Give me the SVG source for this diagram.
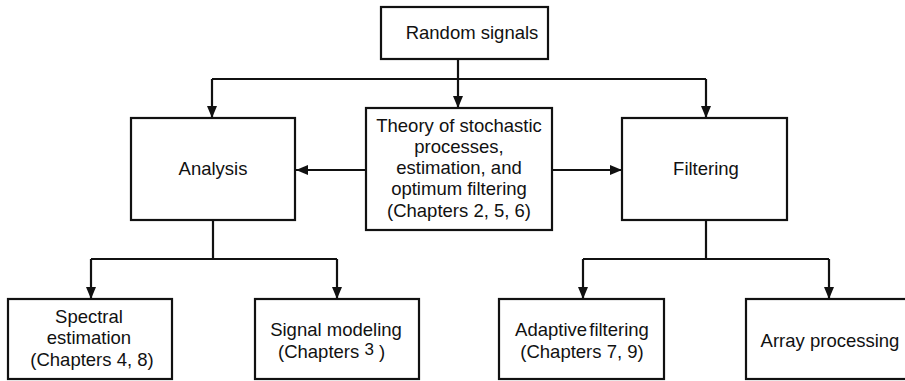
<svg xmlns="http://www.w3.org/2000/svg" width="905" height="381" viewBox="0 0 905 381">
<defs>
<marker id="ah" viewBox="0 0 12 10" refX="12" refY="5" markerWidth="12" markerHeight="10" markerUnits="userSpaceOnUse" orient="auto">
<path d="M0,0 L12,5 L0,10 Z" fill="#111"/>
</marker>
<style>
.box{fill:#fff;stroke:#111;stroke-width:2.2}
.lbl{font-family:"Liberation Sans",Arial,sans-serif;font-size:18.5px;fill:#111;text-anchor:middle}
.con{fill:none;stroke:#111;stroke-width:2.2}
</style>
</defs>
<rect width="905" height="381" fill="#fff"/>
<g id="connectors">
<path class="con" d="M458,59 V108" marker-end="url(#ah)"/>
<path class="con" d="M212,79 H706"/>
<path class="con" d="M212,79 V118" marker-end="url(#ah)"/>
<path class="con" d="M706,79 V118" marker-end="url(#ah)"/>
<path class="con" d="M366,170 H296" marker-end="url(#ah)"/>
<path class="con" d="M552,170 H622" marker-end="url(#ah)"/>
<path class="con" d="M213,220 V259 M91,259 H337"/>
<path class="con" d="M91,259 V299" marker-end="url(#ah)"/>
<path class="con" d="M337,259 V299" marker-end="url(#ah)"/>
<path class="con" d="M706,220 V259 M583,259 H829"/>
<path class="con" d="M583,259 V299" marker-end="url(#ah)"/>
<path class="con" d="M829,259 V299" marker-end="url(#ah)"/>
</g>
<g id="random-signals">
<rect class="box" x="381" y="7" width="167" height="52"/>
<text class="lbl" x="472" y="39">Random signals</text>
</g>
<g id="theory">
<rect class="box" x="366" y="108" width="186" height="122"/>
<text class="lbl" x="459" y="132">Theory of stochastic</text>
<text class="lbl" x="459" y="153">processes,</text>
<text class="lbl" x="459" y="174">estimation, and</text>
<text class="lbl" x="459" y="195">optimum filtering</text>
<text class="lbl" x="459" y="217">(Chapters 2, 5, 6)</text>
</g>
<g id="analysis">
<rect class="box" x="131" y="118" width="164" height="102"/>
<text class="lbl" x="213" y="175">Analysis</text>
</g>
<g id="filtering">
<rect class="box" x="622" y="118" width="165" height="102"/>
<text class="lbl" x="706" y="175">Filtering</text>
</g>
<g id="spectral">
<rect class="box" x="8" y="299" width="164" height="80"/>
<text class="lbl" x="89" y="323">Spectral</text>
<text class="lbl" x="89" y="344">estimation</text>
<text class="lbl" x="92" y="366">(Chapters 4, 8)</text>
</g>
<g id="signal-modeling">
<rect class="box" x="255" y="299" width="164" height="80"/>
<text class="lbl" x="336" y="336">Signal modeling</text>
<text class="lbl" x="278" y="358" style="text-anchor:start">(Chapters <tspan font-size="17" dy="-3">3</tspan><tspan dy="3"> )</tspan></text>
</g>
<g id="adaptive">
<rect class="box" x="499" y="299" width="165" height="80"/>
<text class="lbl" x="582" y="336">Adaptive<tspan dx="-3"> filtering</tspan></text>
<text class="lbl" x="582" y="358">(Chapters 7, 9)</text>
</g>
<g id="array">
<rect class="box" x="746" y="299" width="170" height="80"/>
<text class="lbl" x="830" y="347">Array processing</text>
</g>
</svg>
